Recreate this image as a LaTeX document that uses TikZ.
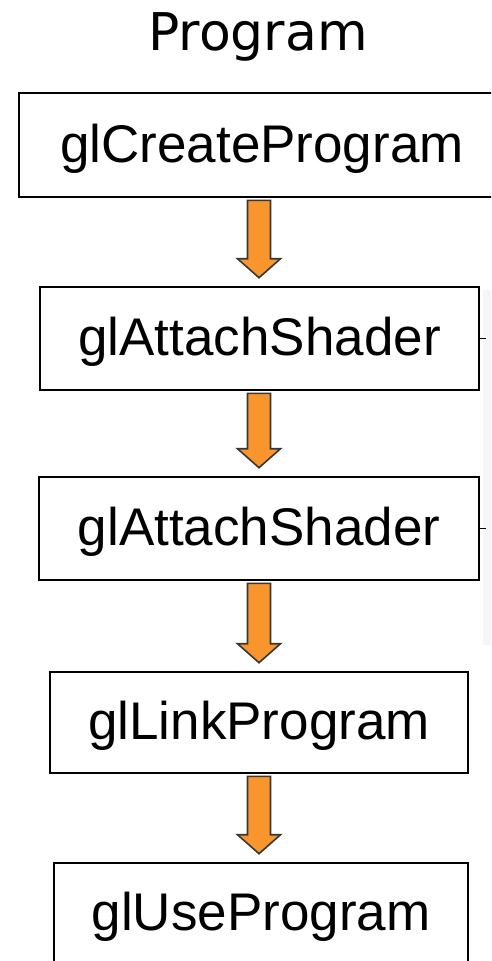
\documentclass[tikz,border=0pt]{standalone}
\usepackage{fontspec}
\setmainfont{Liberation Sans}
\newfontfamily\titlefont{DejaVu Sans}
\usetikzlibrary{calc}
\definecolor{arroworange}{RGB}{248,150,45}
\definecolor{arrowedge}{RGB}{55,55,55}
\definecolor{faintgray}{RGB}{246,246,246}
\tikzset{
  stepbox/.style={draw=black, line width=2.6pt, rectangle, inner sep=0pt,
    font=\fontsize{53}{60}\selectfont, text height=38pt, text depth=4pt},
  fatarrow/.style={draw=arrowedge, fill=arroworange, line width=1.6pt, line join=miter},
  tick/.style={draw=black, line width=1.8pt}
}
\newcommand{\fatconn}[2]{%
  \draw[fatarrow] let \p1=(#1.south), \p2=(#2.north) in
    (259pt-11.5pt,\y1-2pt) -- (259pt+11.5pt,\y1-2pt) -- (259pt+11.5pt,\y2+27pt)
    -- (259pt+21.5pt,\y2+27pt) -- (259pt,\y2+8pt) -- (259pt-21.5pt,\y2+27pt)
    -- (259pt-11.5pt,\y2+27pt) -- cycle;}
\begin{document}
\begin{tikzpicture}[x=1pt,y=-1pt]
\useasboundingbox (0,0) rectangle (491,961);
\clip (0,0) rectangle (491,961);
\fill[white] (0,0) rectangle (491,961);
\fill[faintgray] (483,290) rectangle (491,645);

\node[anchor=base, font=\titlefont\fontsize{52}{60}\selectfont, inner sep=0pt] (title) at (258,50) {Program};

\node[stepbox, minimum width=486pt, minimum height=104pt] (create) at (262,145) {glCreateProgram};
\node[stepbox, minimum width=439pt, minimum height=103pt] (attach1) at (259.5,338.5) {glAttachShader};
\node[stepbox, minimum width=440pt, minimum height=103pt] (attach2) at (259,528.5) {glAttachShader};
\node[stepbox, minimum width=418pt, minimum height=101pt] (link) at (259,722.5) {glLinkProgram};
\node[stepbox, minimum width=414pt, minimum height=100pt] (use) at (261,913) {glUseProgram};

\fatconn{create}{attach1}
\fatconn{attach1}{attach2}
\fatconn{attach2}{link}
\fatconn{link}{use}

\coordinate (t1) at ($(attach1.east)+(6,0)$);
\coordinate (t2) at ($(attach2.east)+(6,0)$);
\draw[tick] (attach1.east) -- (t1);
\draw[tick] (attach2.east) -- (t2);
\end{tikzpicture}
\end{document}
